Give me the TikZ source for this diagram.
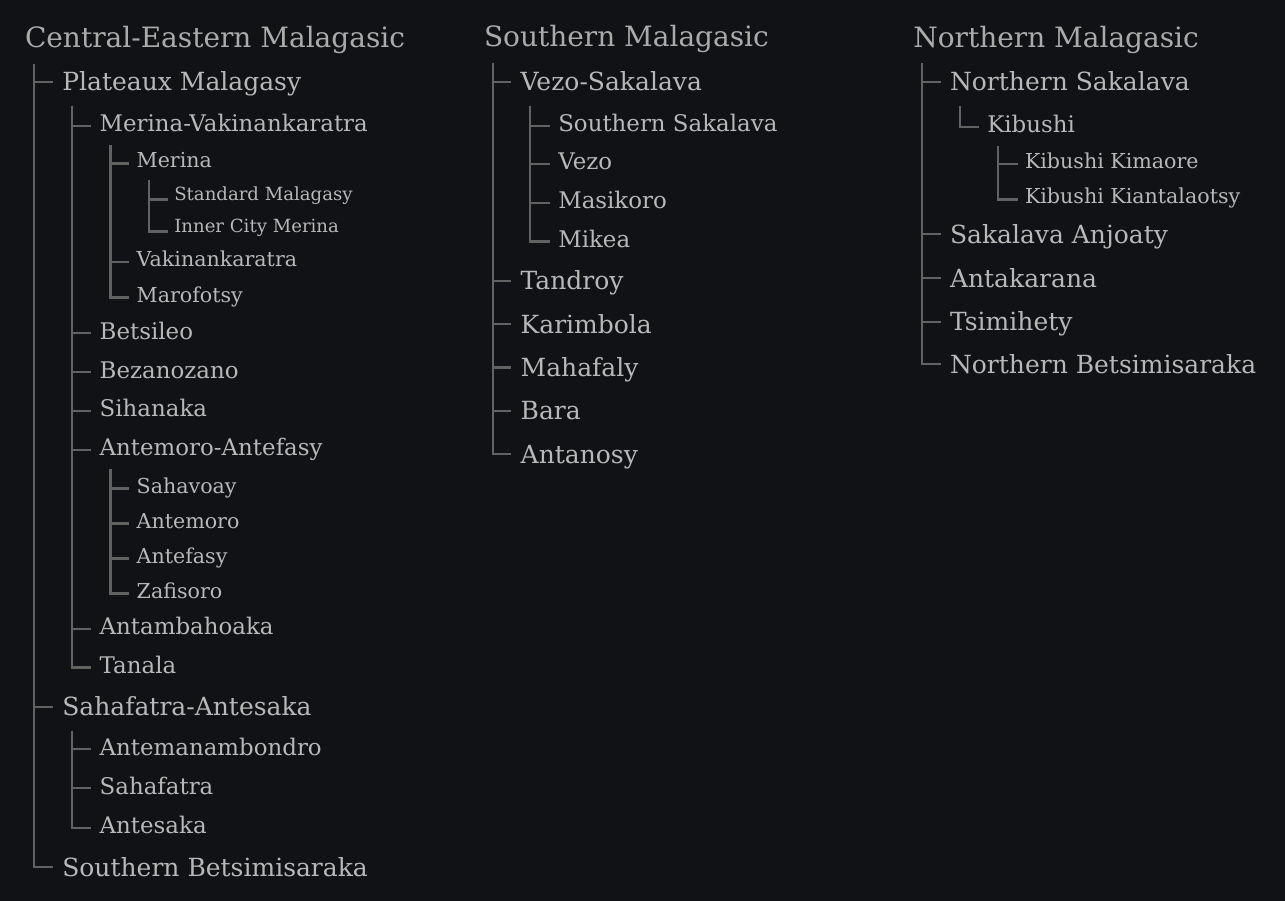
\documentclass[tikz,border=0pt]{standalone}
\usepackage{fontspec}
\setmainfont{DejaVu Serif}
\definecolor{bg}{HTML}{111216}
\definecolor{txt}{HTML}{B8B8B8}
\definecolor{head}{HTML}{ABABAB}
\definecolor{ln}{HTML}{626262}
\tikzset{
 lbl/.style={anchor=base west, inner sep=0pt, outer sep=0pt, text=txt},
 lv0/.style={lbl, text=head, font=\fontsize{28}{32}\selectfont},
 lv1/.style={lbl, font=\fontsize{25}{28}\selectfont},
 lv2/.style={lbl, font=\fontsize{22.9}{26}\selectfont},
 lv3/.style={lbl, font=\fontsize{20.6}{24}\selectfont},
 lv4/.style={lbl, font=\fontsize{18.1}{22}\selectfont},
 conn/.style={draw=ln, line width=2.1pt},
}
% #1 parent, #2 child, #3 dx, #4 down, #5 gap, #6 up
\newcommand\treebranch[6]{\draw[conn] ([xshift=#3pt,yshift=-#4pt]#1.base west) |- ([xshift=-#5pt,yshift=#6pt]#2.base west);}
\newcommand\linkA[2]{\treebranch{#1}{#2}{9}{16}{9.3}{9}}
\newcommand\linkB[2]{\treebranch{#1}{#2}{9.7}{15}{8.7}{6}}
\newcommand\linkC[2]{\treebranch{#1}{#2}{10.8}{13.5}{7.5}{4.5}}
\newcommand\linkD[2]{\treebranch{#1}{#2}{12.3}{12.5}{6.6}{1.5}}
\begin{document}
\begin{tikzpicture}
\useasboundingbox (0pt,0pt) rectangle (1285pt,-901pt);
\fill[bg] (0pt,0pt) rectangle (1285pt,-901pt);
% ---- Column 1
\node[lv0] (ce) at (25pt,-47.7pt) {Central-Eastern Malagasic};
\node[lv1] (plat) at (62.3pt,-90.7pt) {Plateaux Malagasy};
\node[lv2] (merv) at (99.7pt,-131.7pt) {Merina-Vakinankaratra};
\node[lv3] (mer) at (136.7pt,-168pt) {Merina};
\node[lv4] (std) at (174.3pt,-201pt) {Standard Malagasy};
\node[lv4] (icm) at (174.3pt,-233pt) {Inner City Merina};
\node[lv3] (vak) at (136.7pt,-266.7pt) {Vakinankaratra};
\node[lv3] (maro) at (136.7pt,-302pt) {Marofotsy};
\node[lv2] (bets) at (99.7pt,-339pt) {Betsileo};
\node[lv2] (bez) at (99.7pt,-378pt) {Bezanozano};
\node[lv2] (sih) at (99.7pt,-416.8pt) {Sihanaka};
\node[lv2] (antant) at (99.7pt,-455.8pt) {Antemoro-Antefasy};
\node[lv3] (sahv) at (136.7pt,-493pt) {Sahavoay};
\node[lv3] (antm) at (136.7pt,-528pt) {Antemoro};
\node[lv3] (antf) at (136.7pt,-563pt) {Antefasy};
\node[lv3] (zaf) at (136.7pt,-598pt) {Zafisoro};
\node[lv2] (antb) at (99.7pt,-634.7pt) {Antambahoaka};
\node[lv2] (tan) at (99.7pt,-673.5pt) {Tanala};
\node[lv1] (sahant) at (62.3pt,-715.7pt) {Sahafatra-Antesaka};
\node[lv2] (antmb) at (99.7pt,-755.3pt) {Antemanambondro};
\node[lv2] (sahf) at (99.7pt,-794.3pt) {Sahafatra};
\node[lv2] (ants) at (99.7pt,-833.7pt) {Antesaka};
\node[lv1] (sbet) at (62.3pt,-876pt) {Southern Betsimisaraka};
% ---- Column 2
\node[lv0] (sm) at (484pt,-46.7pt) {Southern Malagasic};
\node[lv1] (vs) at (520.7pt,-90.7pt) {Vezo-Sakalava};
\node[lv2] (ssak) at (558.3pt,-131.7pt) {Southern Sakalava};
\node[lv2] (vezo) at (558.3pt,-170pt) {Vezo};
\node[lv2] (masi) at (558.3pt,-209pt) {Masikoro};
\node[lv2] (mik) at (558.3pt,-247.5pt) {Mikea};
\node[lv1] (tand) at (520.7pt,-290pt) {Tandroy};
\node[lv1] (kari) at (520.7pt,-333.3pt) {Karimbola};
\node[lv1] (maha) at (520.7pt,-376.5pt) {Mahafaly};
\node[lv1] (bara) at (520.7pt,-419.7pt) {Bara};
\node[lv1] (anta) at (520.7pt,-463.3pt) {Antanosy};
% ---- Column 3
\node[lv0] (nm) at (913.3pt,-47.3pt) {Northern Malagasic};
\node[lv1] (nsak) at (950pt,-91pt) {Northern Sakalava};
\node[lv2] (kib) at (987.3pt,-132.7pt) {Kibushi};
\node[lv3] (kkim) at (1025pt,-168.3pt) {Kibushi Kimaore};
\node[lv3] (kkia) at (1025pt,-204pt) {Kibushi Kiantalaotsy};
\node[lv1] (sanj) at (950pt,-243.3pt) {Sakalava Anjoaty};
\node[lv1] (antk) at (950pt,-287.3pt) {Antakarana};
\node[lv1] (tsim) at (950pt,-330.7pt) {Tsimihety};
\node[lv1] (nbet) at (950pt,-373.3pt) {Northern Betsimisaraka};
% ---- Connectors
\linkA{ce}{plat} \linkA{ce}{sahant} \linkA{ce}{sbet}
\linkB{plat}{merv} \linkB{plat}{bets} \linkB{plat}{bez} \linkB{plat}{sih}
\linkB{plat}{antant} \linkB{plat}{antb} \linkB{plat}{tan}
\linkC{merv}{mer} \linkC{merv}{vak} \linkC{merv}{maro}
\linkD{mer}{std} \linkD{mer}{icm}
\linkC{antant}{sahv} \linkC{antant}{antm} \linkC{antant}{antf} \linkC{antant}{zaf}
\linkB{sahant}{antmb} \linkB{sahant}{sahf} \linkB{sahant}{ants}
\linkA{sm}{vs} \linkA{sm}{tand} \linkA{sm}{kari} \linkA{sm}{maha} \linkA{sm}{bara} \linkA{sm}{anta}
\linkB{vs}{ssak} \linkB{vs}{vezo} \linkB{vs}{masi} \linkB{vs}{mik}
\linkA{nm}{nsak} \linkA{nm}{sanj} \linkA{nm}{antk} \linkA{nm}{tsim} \linkA{nm}{nbet}
\linkB{nsak}{kib}
\linkC{kib}{kkim} \linkC{kib}{kkia}
\end{tikzpicture}
\end{document}
